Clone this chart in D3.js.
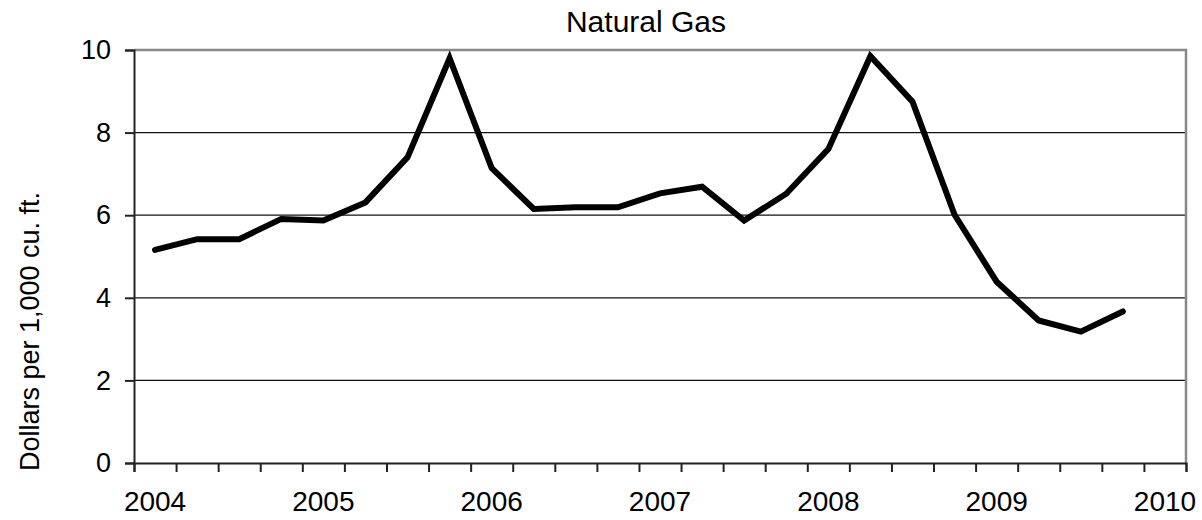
<!DOCTYPE html>
<html>

<head>
    <meta charset="utf-8">
    <style>
        body {
            margin: 0;
            background: #fff;
        }

        svg {
            font-family: Arial, 'Liberation Sans', sans-serif;
        }
    </style>
</head>

<body>
    <svg width="1202" height="520"></svg>
</body>

<script src="https://d3js.org/d3.v7.min.js"></script>

<script>
    // quarters on the category axis, 2004 Q1 .. 2010 Q1
    let quarters = ["2004Q1", "2004Q2", "2004Q3", "2004Q4",
        "2005Q1", "2005Q2", "2005Q3", "2005Q4",
        "2006Q1", "2006Q2", "2006Q3", "2006Q4",
        "2007Q1", "2007Q2", "2007Q3", "2007Q4",
        "2008Q1", "2008Q2", "2008Q3", "2008Q4",
        "2009Q1", "2009Q2", "2009Q3", "2009Q4",
        "2010Q1"]

    // label shown under each category (only first quarter of each year)
    let tickLabels = ["2004", "", "", "", "2005", "", "", "", "2006", "", "", "",
        "2007", "", "", "", "2008", "", "", "", "2009", "", "", "", "2010"]

    // dollars per 1,000 cu. ft.
    let prices = [5.16, 5.42, 5.42, 5.91, 5.87, 6.31, 7.40, 9.80,
        7.14, 6.15, 6.19, 6.19, 6.53, 6.69, 5.87, 6.52,
        7.60, 9.85, 8.75, 6.01, 4.39, 3.45, 3.18, 3.67]

    let yTicks = [0, 2, 4, 6, 8, 10]

    let margin = { top: 50, right: 16, bottom: 57, left: 134 }
    let width = 1202
    let height = 520

    let svg = d3.select("svg")

    let x = d3.scaleBand()
        .domain(quarters)
        .range([margin.left, width - margin.right])
        .padding(0)

    let y = d3.scaleLinear()
        .domain([0, 10])
        .range([height - margin.bottom, margin.top])

    // gridlines
    svg.append("g")
        .selectAll("line")
        .data(yTicks.filter(d => d > 0 && d < 10))
        .enter().append("line")
        .attr("x1", margin.left)
        .attr("x2", width - margin.right)
        .attr("y1", d => y(d))
        .attr("y2", d => y(d))
        .style("stroke", "#111")
        .style("stroke-width", "1.3px")

    // top and right frame
    svg.append("path")
        .attr("d", `M${margin.left},${y(10)}H${width - margin.right}V${y(0)}`)
        .attr("fill", "none")
        .style("stroke", "#888")
        .style("stroke-width", "2.5px")

    // y axis
    let yAxis = svg.append("g")
        .attr("transform", `translate(${margin.left},0)`)
        .call(d3.axisLeft(y).tickValues(yTicks).tickSize(9).tickPadding(14).tickFormat(d3.format("d")))
    yAxis.attr("font-family", null).attr("font-size", null)
    yAxis.selectAll("text").style("font-size", "27px").style("fill", "#000")
    yAxis.selectAll("line, path").style("stroke", "#222").style("stroke-width", "2px")

    // x axis tick marks at category boundaries
    let edges = d3.scaleLinear()
        .domain([0, quarters.length])
        .range(x.range())

    let xMarks = svg.append("g")
        .attr("transform", `translate(0,${y(0)})`)
        .call(d3.axisBottom(edges).tickValues(d3.range(quarters.length + 1)).tickSize(9).tickFormat(""))
    xMarks.selectAll("line, path").style("stroke", "#222").style("stroke-width", "2px")

    // x axis labels centered in categories
    let xLabels = svg.append("g")
        .attr("transform", `translate(0,${y(0)})`)
        .call(d3.axisBottom(x).tickSize(0).tickPadding(28).tickFormat((d, i) => tickLabels[i]))
    xLabels.attr("font-family", null).attr("font-size", null)
    xLabels.select(".domain").remove()
    xLabels.selectAll("text").style("font-size", "28px").style("fill", "#000")

    // price line
    let line = d3.line()
        .x((d, i) => x(quarters[i]) + x.bandwidth() / 2)
        .y(d => y(d))

    svg.append("path")
        .datum(prices)
        .attr("d", line)
        .attr("fill", "none")
        .style("stroke", "#000")
        .style("stroke-width", "6px")
        .style("stroke-linejoin", "miter")
        .style("stroke-linecap", "round")

    // title
    svg.append("text")
        .attr("x", 646)
        .attr("y", 32)
        .style("text-anchor", "middle")
        .style("font-size", "30px")
        .text("Natural Gas")

    // y axis title
    svg.append("text")
        .attr("transform", `translate(39,${(y(0) + y(10)) / 2 + 75}) rotate(-90)`)
        .style("text-anchor", "middle")
        .style("font-size", "27px")
        .text("Dollars per 1,000 cu. ft.")
</script>

</html>
